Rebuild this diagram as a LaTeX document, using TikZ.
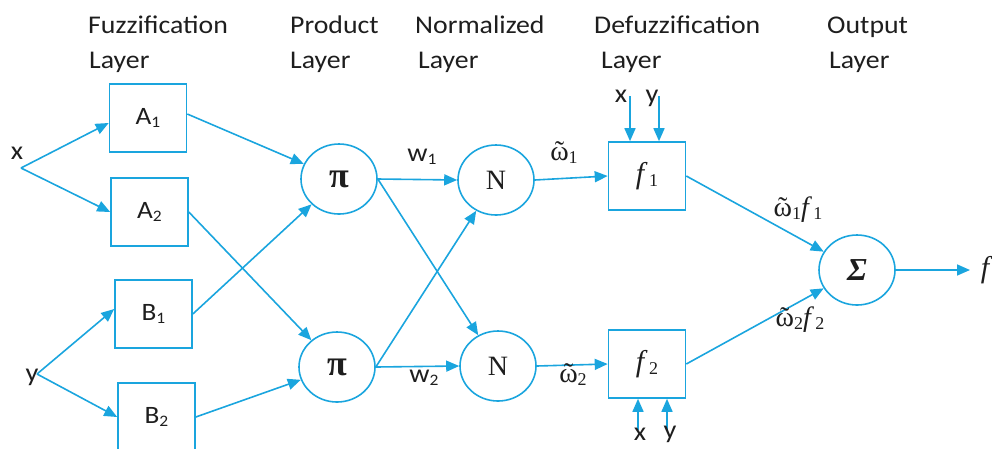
\documentclass[tikz,border=0pt]{standalone}
\usepackage{fontspec}
\setmainfont{Carlito}
\newfontfamily\tm{Liberation Serif}
\usetikzlibrary{arrows.meta,shapes.geometric}
\definecolor{netblue}{RGB}{26,165,222}
\definecolor{ink}{RGB}{30,30,30}
% slightly widened sans text
\newcommand{\hwide}[1]{\scalebox{1.09}[1]{#1}}
\newcommand{\lowsub}[1]{\raisebox{-3pt}{\fontsize{16}{16}\selectfont #1}}
% omega with a tilde, and italic f, each with a lowered index
\newcommand{\serifsub}[1]{\raisebox{-3pt}{\tm\fontsize{18}{18}\selectfont #1}}
\newcommand{\omt}[1]{{\tm\ooalign{ω\cr\hidewidth˜\hidewidth\cr}}\serifsub{#1}}
\newcommand{\fsub}[1]{{\tm\itshape f}\,\serifsub{#1}}

\begin{document}
\begin{tikzpicture}[x=1pt,y=-1pt,
  layerbox/.style={draw=netblue, line width=1.6pt, minimum width=77pt,
    minimum height=68pt, inner sep=0pt, text=ink,
    font=\fontsize{25}{28}\selectfont},
  opnode/.style={ellipse, draw=netblue, line width=1.6pt, minimum width=76pt,
    minimum height=70pt, inner sep=0pt, text=ink,
    font=\fontsize{28}{32}\selectfont},
  link/.style={draw=netblue, line width=1.6pt,
    -{Triangle[length=13pt,width=11pt]}},
  head/.style={anchor=base west, inner sep=0pt, text=ink,
    font=\fontsize{25.5}{28}\selectfont},
  lbl/.style={inner sep=0pt, text=ink, font=\fontsize{26}{28}\selectfont}]

\useasboundingbox (0,0) rectangle (992,448);
\clip (0,0) rectangle (992,448);

% layer captions
\node[head] (h1a) at (88,33) {\hwide{Fuzzification}};
\node[head] (h1b) at (89,68) {\hwide{Layer}};
\node[head] (h2a) at (290,33) {\hwide{Product}};
\node[head] (h2b) at (290,68) {\hwide{Layer}};
\node[head] (h3a) at (415,33) {\hwide{Normalized}};
\node[head] (h3b) at (418,68) {\hwide{Layer}};
\node[head] (h4a) at (594,33) {\hwide{Defuzzification}};
\node[head] (h4b) at (601,68) {\hwide{Layer}};
\node[head] (h5a) at (827,33) {\hwide{Output}};
\node[head] (h5b) at (829,68) {\hwide{Layer}};

% inputs
\node[lbl] (x) at (17,153) {\hwide{x}};
\node[lbl] (y) at (32,377) {\hwide{y}};
\coordinate (xs) at (21,168);
\coordinate (ys) at (37,374);

% fuzzification boxes
\node[layerbox] (A1) at (148,118) {\raisebox{2pt}{\hwide{A\lowsub{1}}}};
\node[layerbox] (A2) at (149.5,212) {\raisebox{2pt}{\hwide{A\lowsub{2}}}};
\node[layerbox] (B1) at (153.5,314) {\raisebox{2pt}{\hwide{B\lowsub{1}}}};
\node[layerbox] (B2) at (156.5,417) {\raisebox{4pt}{\hwide{B\lowsub{2}}}};

% product and normalisation nodes
\node[opnode, font=\fontsize{36}{38}\selectfont] (p1) at (339,179) {{\tm\bfseries π}};
\node[opnode, font=\fontsize{36}{38}\selectfont] (p2) at (337,367) {{\tm\bfseries π}};
\node[opnode] (n1) at (496,180) {{\tm N}};
\node[opnode] (n2) at (498,366) {{\tm N}};

% consequent boxes
\node[layerbox, font=\fontsize{30}{34}\selectfont] (f1) at (647,176) {\fsub{1}};
\node[layerbox, font=\fontsize{30}{34}\selectfont] (f2) at (647,364) {\fsub{2}};

% summation
\node[opnode, font=\fontsize{32}{36}\selectfont] (s) at (857,270) {{\tm\bfseries\itshape Σ}};
\coordinate (out) at (970,270);
\node[lbl, font=\fontsize{30}{34}\selectfont] (f) at (985,270) {{\tm\itshape f}};

% connections
\draw[link] (xs) -- ([yshift=-5pt]A1.west);
\draw[link] (xs) -- (A2.west);
\draw[link] (ys) -- ([yshift=5pt]B1.west);
\draw[link] (ys) -- (B2.west);

\draw[link] ([yshift=4pt]A1.east) -- (p1);
\draw[link] (A2.east) -- (p2);
\draw[link] (B1.east) -- (p1);
\draw[link] (B2.east) -- (p2);

\draw[link] (p1.east) -- (n1.west);
\draw[link] (p1.east) -- (n2);
\draw[link] (p2.east) -- (n1);
\draw[link] (p2.east) -- (n2.west);

\draw[link] (n1.east) -- (f1.west);
\draw[link] (n2.east) -- (f2.west);

\draw[link] (f1.east) -- (s);
\draw[link] (f2.east) -- (s);
\draw[link] (s.east) -- (out);

% direct inputs to the consequent boxes
\coordinate (fx1) at (630,96);
\coordinate (fy1) at (659,96);
\coordinate (fx2) at (638,430);
\coordinate (fy2) at (667,430);
\draw[link] (fx1) -- (fx1 |- f1.north);
\draw[link] (fy1) -- (fy1 |- f1.north);
\draw[link] (fx2) -- (fx2 |- f2.south);
\draw[link] (fy2) -- (fy2 |- f2.south);
\node[lbl] (x1) at (621,96) {\hwide{x}};
\node[lbl] (y1) at (652,98) {\hwide{y}};
\node[lbl] (x2) at (640,434) {\hwide{x}};
\node[lbl] (y2) at (670,434) {\hwide{y}};

% signal labels
\node[lbl] (w1) at (422,157) {\hwide{w\lowsub{1}}};
\node[lbl] (w2) at (424,378) {\hwide{w\lowsub{2}}};
\node[lbl, font=\fontsize{28}{30}\selectfont] (o1) at (564,155) {\omt{1}};
\node[lbl, font=\fontsize{28}{30}\selectfont] (o2) at (573,377) {\omt{2}};
\node[lbl, font=\fontsize{28}{30}\selectfont] (o1f) at (798,210) {\omt{1}\fsub{1}};
\node[lbl, font=\fontsize{28}{30}\selectfont] (o2f) at (800,320) {\omt{2}\fsub{2}};
\end{tikzpicture}
\end{document}
